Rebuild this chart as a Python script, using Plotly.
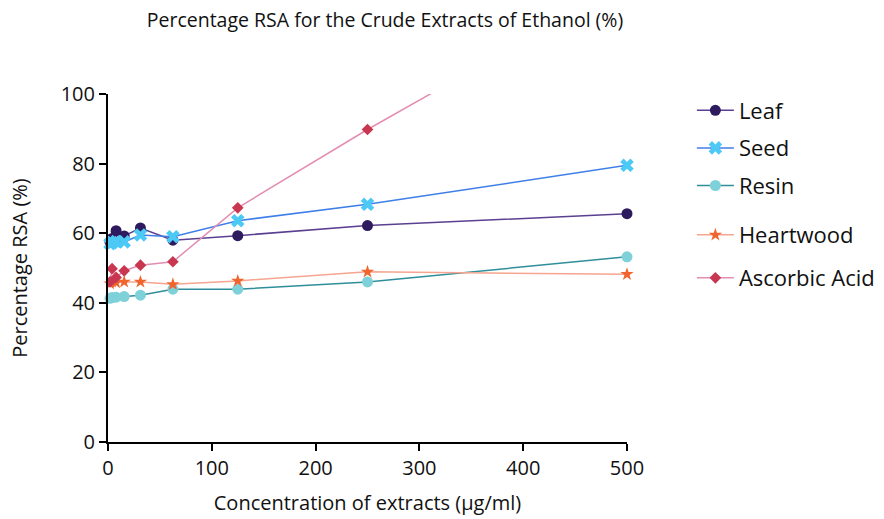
import plotly.graph_objects as go

conc = [1.95, 3.9, 7.8, 15.6, 31.25, 62.5, 125, 250, 500]
leaf = [57.5, 58.5, 60.7, 59.2, 61.5, 58.0, 59.3, 62.2, 65.6]
seed = [57.0, 57.3, 57.6, 57.5, 59.5, 59.0, 63.6, 68.3, 79.5]
resin = [41.3, 41.5, 41.6, 41.8, 42.2, 43.9, 43.9, 46.0, 53.2]
heartwood = [45.5, 46.0, 45.8, 46.0, 46.0, 45.3, 46.3, 48.9, 48.2]
ascorbic = [46.0, 49.8, 47.3, 49.2, 50.8, 51.8, 67.3, 89.8, 132.0]

series = [
    ("Leaf", leaf, "#5B3F91", "#2E1A5E", "circle", 11, "legend", False),
    ("Seed", seed, "#3F7FE8", "#4DC9F6", "x", 12, "legend", False),
    ("Resin", resin, "#2E8E99", "#7ED1D9", "circle", 11, "legend", False),
    ("Heartwood", heartwood, "#F5A590", "#F0642D", "star", 10, "legend2", False),
    ("Ascorbic Acid", ascorbic, "#E38DB2", "#C8374F", "diamond", 9, "legend3", True),
]

fig = go.Figure()
for name, vals, lc, mc, sym, sz, leg, clip in series:
    fig.add_trace(go.Scatter(
        x=conc, y=vals, name=name, mode="lines+markers",
        line=dict(color=lc, width=1.5),
        marker=dict(color=mc, symbol=sym, size=sz, line=dict(width=0)),
        legend=leg, legendgroup=name, cliponaxis=clip,
    ))

font = "Open Sans, Noto Sans, sans-serif"
legfont = dict(size=22, color="#111111")
legx = 1.125
fig.update_layout(
    width=884, height=519,
    margin=dict(l=108, r=257, t=94, b=77, autoexpand=False),
    plot_bgcolor="white", paper_bgcolor="white",
    font=dict(family=font, color="#111111"),
    title=dict(text="Percentage RSA for the Crude Extracts of Ethanol (%)",
               x=385 / 884, xanchor="center", y=1 - 20 / 519, yanchor="middle",
               font=dict(size=19.5, color="#111111")),
    legend=dict(x=legx, y=(442 - 148) / 348, xanchor="left", yanchor="middle",
                font=legfont, traceorder="grouped", tracegroupgap=6,
                itemwidth=37, bgcolor="rgba(0,0,0,0)"),
    legend2=dict(x=legx, y=(442 - 235) / 348, xanchor="left", yanchor="middle",
                 font=legfont, itemwidth=37, bgcolor="rgba(0,0,0,0)"),
    legend3=dict(x=legx, y=(442 - 278) / 348, xanchor="left", yanchor="middle",
                 font=legfont, itemwidth=37, bgcolor="rgba(0,0,0,0)"),
)
fig.update_xaxes(range=[0, 500], tickvals=[0, 100, 200, 300, 400, 500],
                 showline=True, linecolor="black", linewidth=2,
                 ticks="outside", ticklen=7, tickwidth=2, tickcolor="black",
                 showgrid=False, zeroline=False,
                 tickfont=dict(size=20),
                 title=dict(text="Concentration of extracts (μg/ml)",
                            font=dict(size=20), standoff=16))
fig.update_yaxes(range=[0, 100], tickvals=[0, 20, 40, 60, 80, 100],
                 showline=True, linecolor="black", linewidth=2,
                 ticks="outside", ticklen=7, tickwidth=2, tickcolor="black",
                 showgrid=False, zeroline=False,
                 tickfont=dict(size=20),
                 title=dict(text="Percentage RSA (%)",
                            font=dict(size=20), standoff=28))

fig.write_html("out.html")
